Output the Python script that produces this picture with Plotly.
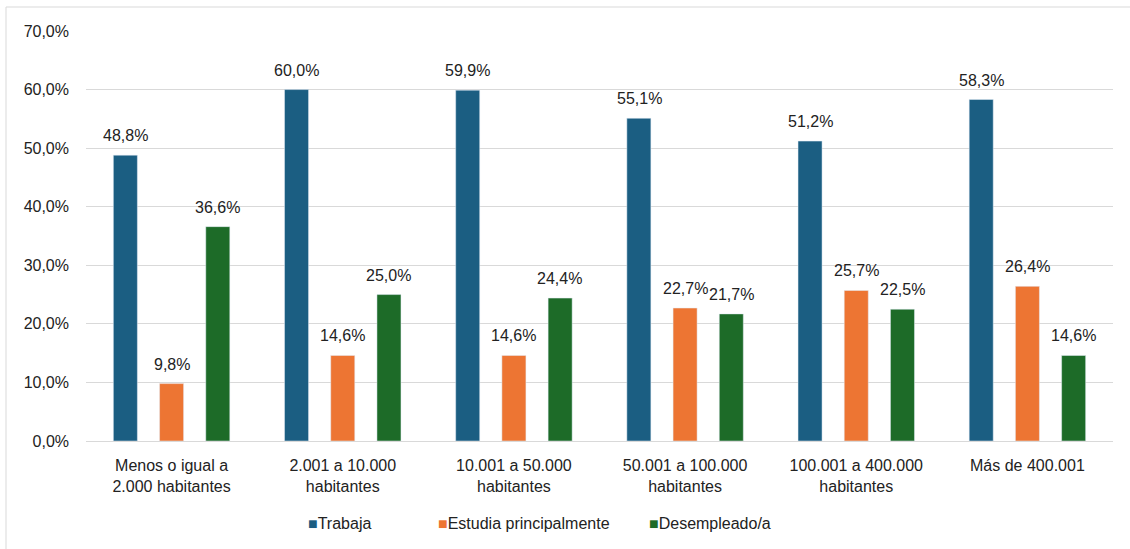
import plotly.graph_objects as go

categorias = [
    "Menos o igual a<br>2.000 habitantes",
    "2.001 a 10.000<br>habitantes",
    "10.001 a 50.000<br>habitantes",
    "50.001 a 100.000<br>habitantes",
    "100.001 a 400.000<br>habitantes",
    "Más de 400.001",
]
trabaja = [48.8, 60.0, 59.9, 55.1, 51.2, 58.3]
estudia = [9.8, 14.6, 14.6, 22.7, 25.7, 26.4]
desempleado = [36.6, 25.0, 24.4, 21.7, 22.5, 14.6]

series = [
    ("Trabaja", trabaja, "#1B5E82"),
    ("Estudia principalmente", estudia, "#ED7533"),
    ("Desempleado/a", desempleado, "#1D6B28"),
]

# offset en pixeles de cada barra dentro del grupo, y posicion de la leyenda
desplazamiento = [-46, 0, 46]
leyenda_x = [308, 437, 648]

fig = go.Figure()
anotaciones = []
for i, (nombre, valores, color) in enumerate(series):
    fig.add_trace(go.Bar(
        x=categorias, y=valores, name=nombre,
        marker_color=color, showlegend=False,
    ))
    for cat, v in zip(categorias, valores):
        anotaciones.append(dict(
            x=cat, y=v, xref="x", yref="y",
            text=f"{v:.1f}%".replace(".", ","),
            showarrow=False, yanchor="bottom", yshift=9,
            xshift=desplazamiento[i],
            font=dict(size=16, color="#222222"),
        ))
    # leyenda dibujada a mano
    anotaciones.append(dict(
        x=(leyenda_x[i] - 88) / 1025, y=(441 - 523) / 410,
        xref="paper", yref="paper", xanchor="left", yanchor="middle",
        text=f"<span style='color:{color}'>■</span>{nombre}",
        showarrow=False, font=dict(size=16, color="#222222"),
    ))

fig.update_layout(
    barmode="group",
    bargap=0.19,
    bargroupgap=0.48,
    separators=",.",
    width=1130, height=549,
    margin=dict(l=86, r=17, t=31, b=108),
    plot_bgcolor="white",
    paper_bgcolor="white",
    font=dict(family="Liberation Sans, Arial, sans-serif", size=16, color="#222222"),
    annotations=anotaciones,
    shapes=[dict(
        type="rect", xref="paper", yref="paper",
        x0=-80 / 1027, x1=1.05, y0=-0.4, y1=1 + 24 / 410,
        line=dict(color="#D9D9D9", width=1),
    )],
)
fig.update_yaxes(
    range=[0, 70], dtick=10, tickformat=".1f", ticksuffix="%",
    showgrid=True, gridcolor="#D9D9D9", zeroline=False,
    ticks="", automargin=False, ticklabelstandoff=16,
)
fig.update_xaxes(
    showline=True, linecolor="#D9D9D9", linewidth=1,
    ticks="", automargin=False, ticklabelstandoff=10,
)

fig.write_html("out.html", config={"displayModeBar": False},
               post_script="document.body.style.margin='0';")
